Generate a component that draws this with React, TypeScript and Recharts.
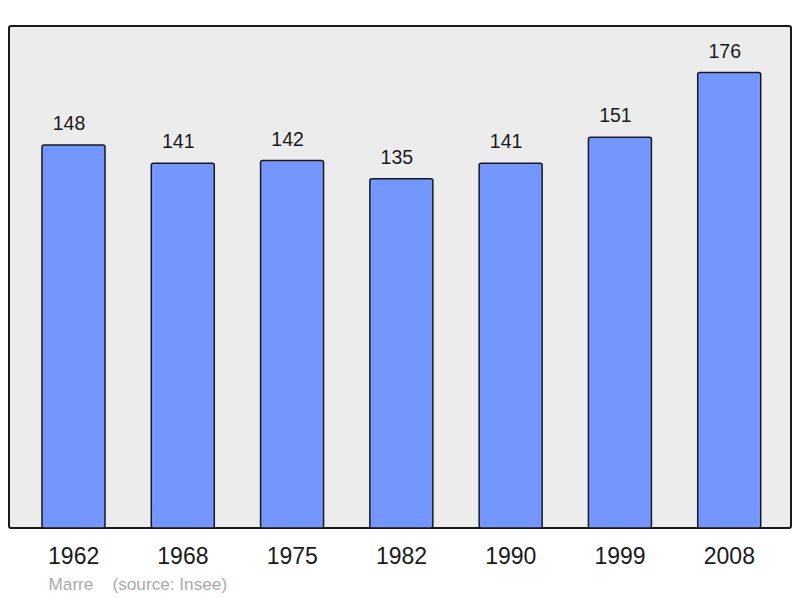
import React from "react";
import { BarChart, Bar, XAxis, YAxis, LabelList } from "recharts";

const years = ["1962", "1968", "1975", "1982", "1990", "1999", "2008"];
const population = [148, 141, 142, 135, 141, 151, 176];
const yDomain = [0, 194];
const sourceText = "Marre    (source: Insee)";

const data = years.map((y, i) => ({ year: y, pop: population[i] }));

const FONT = '"Liberation Sans", Arial, sans-serif';

export default function App() {
  return (
    <div style={{ position: "relative", width: 792, height: 590, fontFamily: FONT }}>
      <div
        style={{
          position: "absolute",
          left: 0,
          top: 17,
          width: 784,
          height: 504,
          boxSizing: "border-box",
          border: "2px solid #1a1a1a",
          borderRadius: 3,
          background: "#ececec",
        }}
      />
      <div style={{ position: "absolute", left: 0, top: 0 }}>
        <BarChart
          width={792}
          height={590}
          data={data}
          margin={{ top: 18, left: 1, right: 9, bottom: 30 }}
        >
          <XAxis
            dataKey="year"
            height={40}
            axisLine={false}
            tickLine={false}
            tickSize={0}
            tickMargin={20}
            padding={{ left: 10, right: 7 }}
            tick={{ fontSize: 23, fill: "#1a1a1a", fontFamily: FONT }}
            interval={0}
          />
          <YAxis hide domain={yDomain} />
          <Bar
            dataKey="pop"
            fill="#7397ff"
            stroke="#1a1a1a"
            strokeWidth={1.5}
            barSize={63}
            radius={2}
            isAnimationActive={false}
          >
            <LabelList
              dataKey="pop"
              position="top"
              offset={15}
              dx={-4.5}
              style={{ fontSize: 19.5, fill: "#1a1a1a", fontFamily: FONT }}
            />
          </Bar>
        </BarChart>
      </div>
      <div
        style={{
          position: "absolute",
          left: 40.5,
          top: 568,
          fontSize: 17.2,
          lineHeight: "17px",
          color: "#aaaaaa",
          whiteSpace: "pre",
        }}
      >
        {sourceText}
      </div>
    </div>
  );
}
